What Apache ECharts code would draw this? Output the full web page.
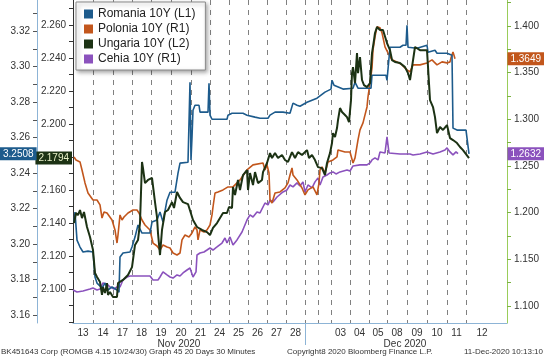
<!DOCTYPE html>
<html><head><meta charset="utf-8">
<script src="https://cdn.jsdelivr.net/npm/echarts@6/dist/echarts.min.js"></script>
<style>html,body{margin:0;padding:0;background:#fff}#c{width:544px;height:361px}</style>
</head><body><div id="c"></div>
<script>
// x = 30-minute bar index since start of window, y = yield
const romania = [[1,3.2124],[2,3.2180],[4,3.2022],[7,3.1983],[9,3.1994],[10,3.1955],[15,3.1960],[20,3.1955],[22,3.1814],[24,3.1780],[29,3.1752],[32,3.1780],[35,3.1741],[39,3.1758],[44,3.1741],[46,3.1729],[47,3.1927],[50,3.1949],[57,3.1955],[59,3.1983],[62,3.2039],[65,3.2107],[67,3.2101],[69,3.2062],[77,3.2062],[79,3.2124],[84,3.2135],[87,3.2180],[90,3.2124],[94,3.2247],[97,3.2292],[102,3.2292],[105,3.2399],[107,3.2456],[115,3.2461],[117,3.2912],[118,3.2473],[119,3.2602],[120,3.2754],[122,3.2782],[126,3.2782],[127,3.2743],[135,3.2743],[136,3.2906],[137,3.2726],[139,3.2703],[154,3.2703],[155,3.2726],[159,3.2737],[170,3.2737],[174,3.2726],[182,3.2715],[187,3.2709],[195,3.2709],[197,3.2726],[202,3.2743],[210,3.2743],[217,3.2737],[220,3.2794],[224,3.2782],[227,3.2776],[234,3.2799],[244,3.2822],[252,3.2856],[258,3.2873],[259,3.2923],[261,3.2895],[270,3.2873],[280,3.2878],[282,3.2912],[285,3.2878],[298,3.2878],[299,3.2951],[313,3.2951],[314,3.2923],[317,3.3109],[327,3.3109],[330,3.3120],[333,3.3120],[334,3.3233],[335,3.3109],[344,3.3103],[354,3.3120],[355,3.3081],[362,3.3092],[364,3.3075],[374,3.3075],[379,3.3064],[380,3.2653],[384,3.2642],[393,3.2642],[396,3.2508]];
const polonia = [[1,1.2597],[3,1.2565],[7,1.2544],[9,1.2458],[12,1.2319],[15,1.2211],[20,1.2136],[24,1.2136],[27,1.2083],[29,1.1943],[31,1.2008],[34,1.1997],[39,1.1922],[42,1.1815],[44,1.1675],[45,1.1761],[47,1.1976],[49,1.1922],[51,1.1954],[55,1.1997],[60,1.2029],[64,1.2029],[66,1.1997],[69,1.1922],[72,1.1868],[77,1.1815],[80,1.1675],[84,1.1643],[87,1.1600],[90,1.1654],[94,1.1632],[97,1.1622],[100,1.1568],[104,1.1547],[107,1.1568],[109,1.1708],[112,1.1761],[116,1.1740],[119,1.1783],[122,1.1847],[124,1.1815],[125,1.1708],[127,1.1815],[131,1.1793],[134,1.1815],[137,1.1868],[139,1.1976],[140,1.2061],[142,1.2211],[145,1.2222],[150,1.2244],[155,1.2276],[160,1.2276],[167,1.2351],[174,1.2458],[180,1.2512],[190,1.2533],[192,1.2458],[194,1.2512],[196,1.2426],[197,1.2136],[199,1.2104],[202,1.2211],[207,1.2222],[212,1.2265],[215,1.2319],[217,1.2404],[219,1.2479],[220,1.2404],[224,1.2351],[229,1.2265],[232,1.2190],[235,1.2244],[240,1.2276],[244,1.2190],[246,1.2319],[247,1.2458],[249,1.2490],[252,1.2426],[255,1.2544],[260,1.2565],[264,1.2597],[265,1.2672],[272,1.2651],[277,1.2651],[280,1.2533],[282,1.2587],[285,1.2780],[287,1.2887],[290,1.2962],[292,1.3048],[294,1.3133],[295,1.3241],[297,1.3391],[299,1.3552],[300,1.3745],[302,1.3884],[304,1.3991],[307,1.3981],[309,1.3927],[312,1.3777],[315,1.3713],[319,1.3638],[324,1.3616],[329,1.3584],[334,1.3530],[337,1.3509],[340,1.3584],[342,1.3605],[347,1.3584],[354,1.3605],[359,1.3638],[361,1.3616],[364,1.3584],[369,1.3616],[374,1.3605],[377,1.3616],[378,1.3659],[380,1.3723],[382,1.3649]];
const ungaria = [[1,2.1400],[3,2.1461],[5,2.1448],[7,2.1479],[9,2.1430],[11,2.1467],[14,2.1376],[17,2.1315],[20,2.1236],[22,2.1097],[24,2.1073],[26,2.1085],[27,2.1042],[29,2.0964],[30,2.1012],[32,2.0976],[34,2.1036],[35,2.0964],[37,2.0982],[40,2.0952],[44,2.0952],[45,2.1036],[47,2.1024],[50,2.1055],[55,2.1085],[59,2.1133],[62,2.1267],[65,2.1297],[67,2.1400],[69,2.1770],[70,2.1733],[72,2.1642],[75,2.1661],[79,2.1673],[82,2.1527],[84,2.1436],[85,2.1339],[87,2.1206],[89,2.1358],[92,2.1467],[95,2.1479],[99,2.1527],[101,2.1491],[104,2.1588],[107,2.1552],[110,2.1527],[115,2.1515],[120,2.1418],[124,2.1376],[129,2.1358],[134,2.1345],[137,2.1327],[140,2.1370],[144,2.1400],[150,2.1461],[154,2.1461],[156,2.1497],[159,2.1491],[160,2.1618],[162,2.1570],[165,2.1661],[167,2.1600],[170,2.1691],[174,2.1721],[175,2.1600],[177,2.1703],[180,2.1630],[182,2.1709],[185,2.1642],[189,2.1661],[190,2.1709],[194,2.1764],[197,2.1824],[199,2.1794],[202,2.1824],[205,2.1794],[209,2.1812],[212,2.1782],[215,2.1770],[219,2.1830],[222,2.1794],[225,2.1830],[229,2.1812],[234,2.1842],[236,2.1794],[239,2.1812],[242,2.1782],[245,2.1739],[249,2.1733],[252,2.1691],[254,2.1764],[257,2.1824],[259,2.1885],[260,2.1945],[262,2.1921],[264,2.1976],[265,2.2024],[267,2.2097],[269,2.2073],[272,2.2055],[274,2.2042],[276,2.2012],[278,2.2145],[279,2.2309],[280,2.2345],[282,2.2248],[284,2.2430],[285,2.2309],[287,2.2406],[289,2.2267],[291,2.2236],[294,2.2224],[297,2.2248],[299,2.2430],[301,2.2509],[302,2.2552],[304,2.2588],[307,2.2570],[310,2.2570],[314,2.2491],[317,2.2448],[319,2.2388],[322,2.2376],[327,2.2370],[332,2.2345],[335,2.2309],[337,2.2267],[339,2.2345],[342,2.2467],[347,2.2448],[354,2.2448],[357,2.2145],[360,2.2103],[362,2.2042],[364,2.1945],[367,2.1982],[370,2.1964],[374,2.1994],[377,2.1915],[380,2.1903],[384,2.1885],[387,2.1861],[390,2.1842],[396,2.1794]];
const cehia = [[0,1.1172],[4,1.1150],[10,1.1161],[12,1.1182],[17,1.1182],[20,1.1193],[24,1.1172],[27,1.1182],[30,1.1247],[34,1.1236],[37,1.1204],[41,1.1182],[44,1.1204],[47,1.1204],[50,1.1279],[54,1.1311],[57,1.1322],[77,1.1322],[80,1.1279],[85,1.1279],[87,1.1311],[90,1.1365],[94,1.1333],[97,1.1311],[100,1.1300],[104,1.1333],[107,1.1322],[110,1.1354],[114,1.1386],[117,1.1407],[120,1.1311],[123,1.1365],[124,1.1547],[127,1.1568],[131,1.1579],[134,1.1600],[137,1.1622],[140,1.1600],[144,1.1633],[149,1.1675],[152,1.1729],[154,1.1675],[157,1.1740],[160,1.1654],[164,1.1708],[169,1.1793],[174,1.1922],[177,1.1976],[180,1.1954],[184,1.2008],[187,1.1997],[192,1.2104],[195,1.2083],[197,1.2136],[200,1.2115],[204,1.2168],[210,1.2222],[214,1.2244],[217,1.2297],[220,1.2276],[224,1.2319],[227,1.2287],[230,1.2330],[232,1.2222],[235,1.2297],[239,1.2265],[242,1.2330],[245,1.2373],[247,1.2297],[250,1.2383],[254,1.2404],[257,1.2426],[260,1.2437],[263,1.2415],[267,1.2437],[274,1.2458],[277,1.2447],[280,1.2501],[287,1.2512],[294,1.2512],[297,1.2533],[299,1.2565],[302,1.2587],[305,1.2565],[307,1.2651],[312,1.2640],[314,1.2812],[316,1.2640],[327,1.2629],[337,1.2629],[340,1.2619],[347,1.2629],[354,1.2651],[360,1.2629],[367,1.2651],[372,1.2672],[374,1.2694],[377,1.2651],[380,1.2619],[383,1.2651],[385,1.2632]];

// trading-day boundaries (bar index) and day labels
const dayBounds = [20,40,59,78,98,118,137,156,175,194,213,232,245,258,277,296,314,334,354,374,393];
const dayLabels = ['13','14','17','18','19','20','21','24','25','26','27','28','','','03','04','05','08','09','10','11','12'];
const windowEnd = 425;
const monthLabels = ['Nov 2020','Dec 2020'];
const monthCenters = [106, 332];
const monthBreak = 232;

// axis tick labels
const l1Labels = [3.16,3.18,3.20,3.22,3.24,3.26,3.28,3.30,3.32];
const l2Labels = [2.100,2.120,2.140,2.160,2.180,2.200,2.220,2.240,2.260];
const r1Labels = [1.100,1.150,1.200,1.250,1.300,1.350,1.400];

const names = ['Romania 10Y (L1)','Polonia 10Y (R1)','Ungaria 10Y (L2)','Cehia 10Y (R1)'];
const colors = {ro:'#1d5b8c', pl:'#c2561c', hu:'#1c3214', cz:'#8b52bd'};
const footer = ['BK451643 Corp (ROMGB 4.15 10/24/30) Graph 45 20 Days 30 Minutes','Copyright8 2020 Bloomberg Finance L.P.','11-Dec-2020 10:13:10'];

const FONT = 'Liberation Sans';
const XMAX = 434;

function steps(a, b, s) { const r = []; for (let v = a; v <= b + 1e-9; v += s) r.push(+v.toFixed(4)); return r; }
const edges = [0].concat(dayBounds, [windowEnd]);
const dayPos = [], dayText = [];
dayLabels.forEach((t, i) => { if (t) { dayPos.push((edges[i] + edges[i+1]) / 2); dayText.push(t); } });
function nearestLabel(v, pos, txt) { let bi = 0; pos.forEach((p, i) => { if (Math.abs(p - v) < Math.abs(pos[bi] - v)) bi = i; }); return txt[bi]; }

const last = a => a[a.length - 1][1];
function badge(val, bg, fg) {
  return { show: true, type: 'line', value: val, status: 'show', triggerTooltip: false,
    lineStyle: { opacity: 0 },
    label: { show: true, formatter: () => val.toFixed(4), backgroundColor: bg, color: fg,
      padding: [2, 3, 1, 3], fontSize: 10, fontFamily: FONT, margin: 1, borderRadius: 0 } };
}
const lblStyle = { fontSize: 10, color: '#333', fontFamily: FONT };

const chart = echarts.init(document.getElementById('c'), null, { renderer: 'canvas' });
chart.setOption({
  animation: false,
  backgroundColor: '#fff',
  grid: { left: 73, right: 37, top: 0, bottom: 38, containLabel: false },
  title: [
    { text: footer[0], left: 1, top: 348, padding: 0, textStyle: { fontSize: 8, fontWeight: 'normal', color: '#333', fontFamily: FONT } },
    { text: footer[1], left: 287, top: 348, padding: 0, textStyle: { fontSize: 8, fontWeight: 'normal', color: '#333', fontFamily: FONT } },
    { text: footer[2], right: 1, top: 348, padding: 0, textStyle: { fontSize: 8, fontWeight: 'normal', color: '#333', fontFamily: FONT } }
  ],
  legend: {
    data: names, orient: 'vertical', left: 76, top: 2, icon: 'rect', itemWidth: 9, itemHeight: 9, itemGap: 3,
    padding: [6, 10, 5, 8], backgroundColor: '#fff', borderColor: '#8a8a8a', borderWidth: 1,
    shadowColor: 'rgba(0,0,0,0.35)', shadowBlur: 4, shadowOffsetX: 2, shadowOffsetY: 2,
    textStyle: { fontSize: 12, color: '#222', fontFamily: FONT, lineHeight: 12 }, selectedMode: false, z: 20
  },
  xAxis: [
    { type: 'value', min: 0, max: XMAX, position: 'bottom',
      axisLine: { show: true, onZero: false, lineStyle: { color: '#8db4d6', width: 1 } },
      axisTick: { show: false, customValues: dayBounds },
      splitLine: { show: true, lineStyle: { color: '#808080', width: 1, type: [5, 5] } },
      axisLabel: { customValues: dayPos, margin: 5, ...lblStyle, formatter: v => nearestLabel(v, dayPos, dayText) } },
    { type: 'value', min: 0, max: XMAX, position: 'bottom', offset: 0,
      axisLine: { show: false, onZero: false },
      axisTick: { show: true, customValues: [monthBreak], length: 22, lineStyle: { color: '#8db4d6' } },
      splitLine: { show: false },
      axisLabel: { customValues: monthCenters, margin: 16, ...lblStyle, formatter: v => nearestLabel(v, monthCenters, monthLabels) } }
  ],
  yAxis: [
    { type: 'value', position: 'left', offset: 0, min: 2.0794, max: 2.2752, splitLine: { show: false },
      axisLine: { show: true, onZero: false, lineStyle: { color: '#333' } },
      axisTick: { show: true, customValues: steps(2.08, 2.27, 0.01), length: 4, lineStyle: { color: '#333' } },
      axisLabel: { customValues: l2Labels, margin: 7, ...lblStyle, formatter: v => v.toFixed(3) },
      axisPointer: badge(last(ungaria), colors.hu, '#e8f0c8') },
    { type: 'value', position: 'left', offset: 36, min: 3.1555, max: 3.3375, splitLine: { show: false },
      axisLine: { show: true, onZero: false, lineStyle: { color: '#8db4d6' } },
      axisTick: { show: true, customValues: steps(3.16, 3.33, 0.01), length: 4, lineStyle: { color: '#555' } },
      axisLabel: { customValues: l1Labels, margin: 7, ...lblStyle, formatter: v => v.toFixed(2) },
      axisPointer: badge(last(romania), colors.ro, '#fff') },
    { type: 'value', position: 'right', offset: 0, min: 1.0818, max: 1.4279, splitLine: { show: false },
      axisLine: { show: true, onZero: false, lineStyle: { color: '#9acd5a' } },
      axisTick: { show: true, customValues: steps(1.1, 1.425, 0.025), length: 4, lineStyle: { color: '#7cb342' } },
      axisLabel: { customValues: r1Labels, margin: 7, ...lblStyle, formatter: v => v.toFixed(3) },
      axisPointer: badge(last(polonia), colors.pl, '#fff') },
    { type: 'value', position: 'right', offset: 0, min: 1.0818, max: 1.4279, splitLine: { show: false },
      axisLine: { show: false }, axisTick: { show: false }, axisLabel: { show: false },
      axisPointer: badge(last(cehia), colors.cz, '#fff') }
  ],
  series: [
    { name: names[3], type: 'line', data: cehia, xAxisIndex: 0, yAxisIndex: 2, symbol: 'none', color: colors.cz, lineStyle: { width: 1.6 } },
    { name: names[1], type: 'line', data: polonia, xAxisIndex: 0, yAxisIndex: 2, symbol: 'none', color: colors.pl, lineStyle: { width: 1.6 } },
    { name: names[0], type: 'line', data: romania, xAxisIndex: 0, yAxisIndex: 1, symbol: 'none', color: colors.ro, lineStyle: { width: 1.6 } },
    { name: names[2], type: 'line', data: ungaria, xAxisIndex: 0, yAxisIndex: 0, symbol: 'none', color: colors.hu, lineStyle: { width: 2 } }
  ]
});
</script></body></html>
